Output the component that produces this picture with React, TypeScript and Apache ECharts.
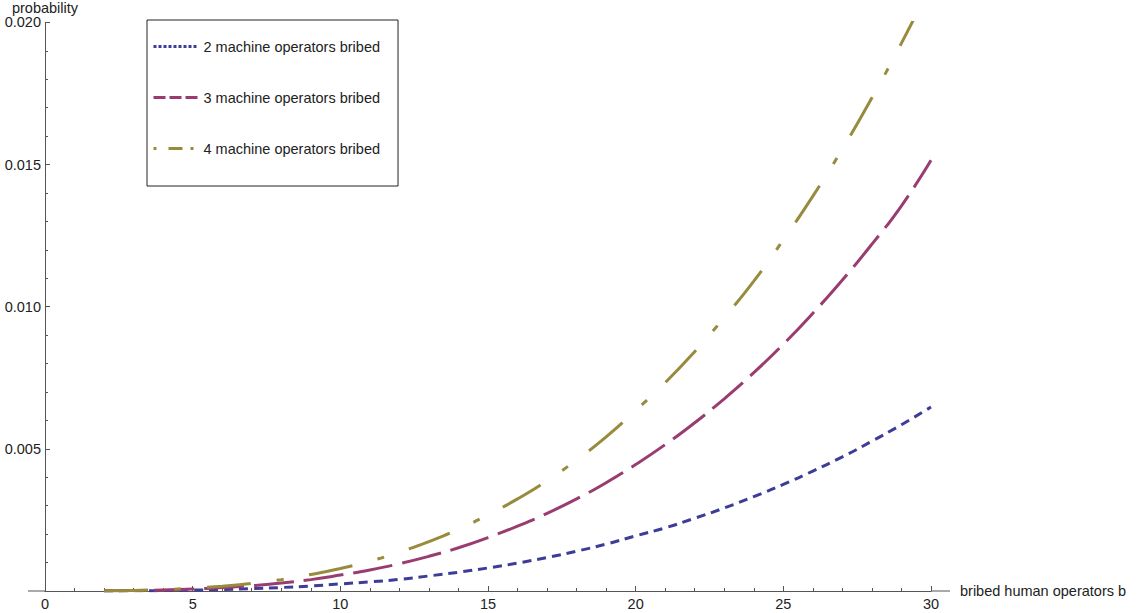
import React, { useEffect, useRef } from "react";
import * as echarts from "echarts";

const xValues = [2, 3, 4, 5, 6, 7, 8, 9, 10, 11, 12, 13, 14, 15, 16, 17, 18, 19, 20, 21, 22, 23, 24, 25, 26, 27, 28, 29, 30];

const twoMachine = [0.0000019, 0.0000065, 0.000015, 0.00003, 0.000052, 0.000082, 0.000123, 0.000175, 0.00025, 0.00032, 0.00041, 0.00053, 0.00066, 0.00081, 0.00098, 0.00118, 0.0014, 0.00165, 0.00194, 0.00222, 0.00256, 0.00292, 0.00332, 0.00375, 0.00422, 0.00472, 0.00527, 0.00585, 0.00647];

const threeMachine = [0.0000044, 0.000015, 0.000036, 0.000069, 0.00012, 0.00019, 0.00028, 0.0004, 0.00056, 0.00074, 0.00096, 0.00122, 0.00152, 0.00188, 0.00228, 0.00273, 0.00324, 0.00381, 0.00445, 0.00515, 0.00592, 0.00676, 0.00768, 0.00868, 0.00977, 0.01094, 0.0122, 0.01355, 0.01515];

const fourMachine = [0.0000063, 0.000021, 0.00005, 0.0001, 0.00017, 0.00027, 0.0004, 0.00058, 0.00079, 0.00105, 0.00137, 0.00174, 0.00217, 0.00268, 0.00324, 0.00388, 0.00461, 0.00542, 0.00635, 0.00733, 0.00842, 0.00962, 0.0109, 0.01235, 0.01389, 0.01555, 0.01735, 0.01927, 0.02133];

const seriesNames = ["2 machine operators bribed", "3 machine operators bribed", "4 machine operators bribed"];
const colors = ["#3d3d99", "#993d71", "#998b3d"];

const FONT = "Liberation Sans, Arial, sans-serif";
const AXIS_COLOR = "#555";
const TEXT_COLOR = "#222";

export default function App() {
  const ref = useRef<HTMLDivElement>(null);
  useEffect(() => {
    if (!ref.current) return;
    const chart = echarts.init(ref.current, null, { renderer: "svg" });
    const mk = (ys: number[]) => xValues.map((x, i) => [x, ys[i]]);
    const gridLeft = 45;
    const gridRight = 210;
    const gridTop = 22;
    const gridBottom = 22;
    const W = 1141;
    const H = 613;
    const hiddenSymbol = { color: "rgba(0,0,0,0)", borderWidth: 0, opacity: 0 };
    chart.setOption({
      animation: false,
      backgroundColor: "#fff",
      textStyle: { fontFamily: FONT },
      grid: { left: gridLeft, right: gridRight, top: gridTop, bottom: gridBottom, containLabel: false },
      xAxis: {
        type: "value",
        min: 0,
        max: 30,
        interval: 5,
        name: "bribed human operators b",
        nameLocation: "end",
        nameGap: 29,
        nameTextStyle: { color: TEXT_COLOR, fontSize: 14.5, fontFamily: FONT, verticalAlign: "middle" },
        axisLine: { show: true, onZero: true, lineStyle: { color: AXIS_COLOR, width: 1 } },
        axisTick: { show: true, inside: true, length: 5, lineStyle: { color: AXIS_COLOR } },
        minorTick: { show: true, splitNumber: 5, length: 3, lineStyle: { color: AXIS_COLOR } },
        axisLabel: { color: TEXT_COLOR, fontSize: 14.5, margin: 5, fontFamily: FONT },
        splitLine: { show: false },
        minorSplitLine: { show: false },
      },
      yAxis: {
        type: "value",
        min: 0,
        max: 0.02,
        interval: 0.005,
        name: "probability",
        nameLocation: "end",
        nameGap: 6,
        nameTextStyle: { color: TEXT_COLOR, fontSize: 14.5, fontFamily: FONT, align: "center" },
        axisLine: { show: true, onZero: true, lineStyle: { color: AXIS_COLOR, width: 1 } },
        axisTick: { show: true, inside: true, length: 5, lineStyle: { color: AXIS_COLOR } },
        minorTick: { show: true, splitNumber: 5, length: 3, lineStyle: { color: AXIS_COLOR } },
        axisLabel: {
          color: TEXT_COLOR,
          fontSize: 14.5,
          margin: 4,
          fontFamily: FONT,
          formatter: (v: number) => (v === 0 ? "" : v.toFixed(3)),
        },
        splitLine: { show: false },
        minorSplitLine: { show: false },
      },
      legend: {
        orient: "vertical",
        left: 147,
        top: 20,
        padding: [19, 18, 30, 5],
        itemWidth: 45,
        itemHeight: 14,
        itemGap: 36,
        backgroundColor: "#fff",
        borderColor: "#222",
        borderWidth: 1,
        borderRadius: 0,
        itemStyle: hiddenSymbol,
        textStyle: { color: TEXT_COLOR, fontSize: 14.5, fontFamily: FONT },
        data: [
          { name: seriesNames[0], itemStyle: hiddenSymbol, lineStyle: { type: [3, 2], width: 3, color: colors[0] } },
          { name: seriesNames[1], itemStyle: hiddenSymbol, lineStyle: { type: [12, 4], width: 3, color: colors[1] } },
          { name: seriesNames[2], itemStyle: hiddenSymbol, lineStyle: { type: [3, 12, 14, 8], width: 3, color: colors[2] } },
        ],
      },
      graphic: [
        {
          type: "line",
          shape: { x1: 28, y1: H - gridBottom, x2: gridLeft, y2: H - gridBottom },
          style: { stroke: AXIS_COLOR, lineWidth: 1 },
        },
        {
          type: "line",
          shape: { x1: W - gridRight, y1: H - gridBottom, x2: 950, y2: H - gridBottom },
          style: { stroke: AXIS_COLOR, lineWidth: 1 },
        },
      ],
      series: [
        {
          name: seriesNames[0],
          type: "line",
          data: mk(twoMachine),
          smooth: true,
          symbol: "none",
          clip: true,
          lineStyle: { color: colors[0], width: 3, type: [9, 6] },
          itemStyle: { color: colors[0] },
        },
        {
          name: seriesNames[1],
          type: "line",
          data: mk(threeMachine),
          smooth: true,
          symbol: "none",
          clip: true,
          lineStyle: { color: colors[1], width: 3, type: [40, 10] },
          itemStyle: { color: colors[1] },
        },
        {
          name: seriesNames[2],
          type: "line",
          data: mk(fourMachine),
          smooth: true,
          symbol: "none",
          clip: true,
          lineStyle: { color: colors[2], width: 3, type: [44, 26, 7, 26] },
          itemStyle: { color: colors[2] },
        },
      ],
    });
    return () => chart.dispose();
  }, []);
  return (
    <div
      ref={ref}
      style={{ position: "fixed", left: 0, top: 0, width: 1141, height: 613, background: "#fff" }}
    />
  );
}
